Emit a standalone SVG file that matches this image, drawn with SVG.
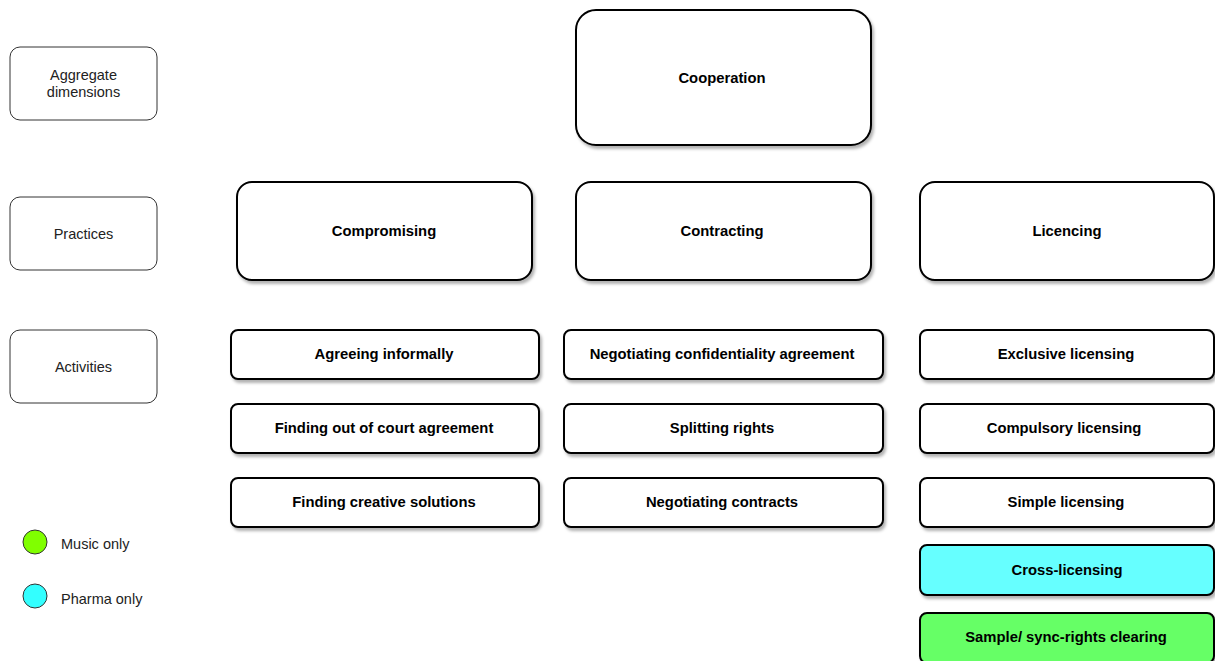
<svg xmlns="http://www.w3.org/2000/svg" width="1215" height="661" viewBox="0 0 1215 661">
<defs>
<filter id="sh" x="-10%" y="-10%" width="130%" height="140%">
<feDropShadow dx="2" dy="3" stdDeviation="1.5" flood-color="#000" flood-opacity="0.3"/>
</filter>
<style>
.lab{fill:#fff;stroke:#333;stroke-width:1}
.box{fill:#fff;stroke:#000;stroke-width:2;filter:url(#sh)}
.t{font-family:"Liberation Sans",Arial,sans-serif;font-size:14.8px;fill:#000;text-anchor:middle}
.b{font-weight:bold}
.s{font-size:14.5px;fill:#222}
</style>
</defs>
<rect width="1215" height="661" fill="#fff"/>
<g id="lab-aggregate"><rect class="lab" x="10" y="47" width="147" height="73" rx="10"/><text class="t s" x="83.5" y="80">Aggregate</text><text class="t s" x="83.5" y="97">dimensions</text></g>
<g id="lab-practices"><rect class="lab" x="10" y="197" width="147" height="73" rx="10"/><text class="t s" x="83.5" y="239">Practices</text></g>
<g id="lab-activities"><rect class="lab" x="10" y="330" width="147" height="73" rx="10"/><text class="t s" x="83.5" y="372">Activities</text></g>

<g id="cooperation"><rect class="box" x="576" y="10" width="295" height="135" rx="20"/><text class="t b" x="722" y="83">Cooperation</text></g>
<g id="compromising"><rect class="box" x="237" y="182" width="295" height="98" rx="15"/><text class="t b" x="384" y="236">Compromising</text></g>
<g id="contracting"><rect class="box" x="576" y="182" width="295" height="98" rx="15"/><text class="t b" x="722" y="236">Contracting</text></g>
<g id="licencing"><rect class="box" x="920" y="182" width="294" height="98" rx="15"/><text class="t b" x="1067" y="236">Licencing</text></g>

<g id="agreeing"><rect class="box" x="231" y="330" width="308" height="49" rx="7"/><text class="t b" x="384" y="359">Agreeing informally</text></g>
<g id="finding-court"><rect class="box" x="231" y="404" width="308" height="49" rx="7"/><text class="t b" x="384" y="433">Finding out of court agreement</text></g>
<g id="finding-creative"><rect class="box" x="231" y="478" width="308" height="49" rx="7"/><text class="t b" x="384" y="507">Finding creative solutions</text></g>

<g id="negotiating-conf"><rect class="box" x="564" y="330" width="319" height="49" rx="7"/><text class="t b" x="722" y="359">Negotiating confidentiality agreement</text></g>
<g id="splitting"><rect class="box" x="564" y="404" width="319" height="49" rx="7"/><text class="t b" x="722" y="433">Splitting rights</text></g>
<g id="negotiating-contracts"><rect class="box" x="564" y="478" width="319" height="49" rx="7"/><text class="t b" x="722" y="507">Negotiating contracts</text></g>

<g id="exclusive"><rect class="box" x="920" y="330" width="294" height="49" rx="7"/><text class="t b" x="1066" y="359">Exclusive licensing</text></g>
<g id="compulsory"><rect class="box" x="920" y="404" width="294" height="49" rx="7"/><text class="t b" x="1064" y="433">Compulsory licensing</text></g>
<g id="simple"><rect class="box" x="920" y="478" width="294" height="49" rx="7"/><text class="t b" x="1066" y="507">Simple licensing</text></g>
<g id="cross"><rect class="box" x="920" y="545" width="294" height="50" rx="7" style="fill:#66ffff"/><text class="t b" x="1067" y="575">Cross-licensing</text></g>
<g id="sample"><rect class="box" x="920" y="613" width="294" height="50" rx="7" style="fill:#66ff66"/><text class="t b" x="1066" y="642">Sample/ sync-rights clearing</text></g>

<g id="legend">
<circle cx="35" cy="542" r="12" fill="#80ff00" stroke="#333" stroke-width="1"/>
<text class="t s" x="61" y="549" style="text-anchor:start">Music only</text>
<circle cx="35" cy="596" r="12" fill="#33ffff" stroke="#333" stroke-width="1"/>
<text class="t s" x="61" y="604" style="text-anchor:start">Pharma only</text>
</g>
<g id="connectors"></g>
</svg>
